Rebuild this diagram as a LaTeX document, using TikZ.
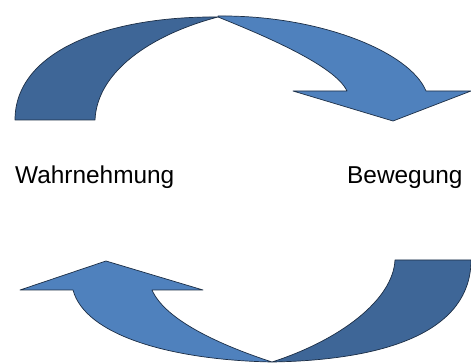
\documentclass[tikz,border=0pt]{standalone}
\usepackage{fontspec}
\setmainfont{Liberation Sans}
\definecolor{darkblue}{HTML}{3E6697}
\definecolor{lightblue}{HTML}{4F81BD}
\definecolor{edgecol}{HTML}{1C2E45}
\tikzset{
  backpart/.style={fill=darkblue, draw=edgecol, line width=0.7pt, line join=round},
  frontpart/.style={fill=lightblue, draw=edgecol, line width=0.7pt, line join=round},
  label/.style={font=\fontsize{24.4}{28}\selectfont, anchor=base west, inner sep=0pt, text=black}
}
\begin{document}
\begin{tikzpicture}[x=1pt,y=-1pt]
\useasboundingbox (0,0) rectangle (471,363);
\fill[white] (0,0) rectangle (471,363);
% top arrow: back (dark) part
\path[backpart] (15,120) -- (95,120)
  .. controls (97,72) and (150,35) .. (218,17)
  .. controls (110,16) and (15,50) .. cycle;
% top arrow: front (light) part with head
\path[frontpart] (218,16)
  .. controls (320,15) and (410,52) .. (426,91)
  -- (471,91) -- (393,121) -- (293,91) -- (347,91)
  .. controls (335,65) and (260,34) .. (218,17) -- cycle;
% bottom arrow: back (dark) part
\path[backpart] (395,260) -- (471,260)
  .. controls (471,330) and (390,360) .. (272,362)
  .. controls (340,340) and (393,300) .. cycle;
% bottom arrow: front (light) part with head
\path[frontpart] (272,362)
  .. controls (170,360) and (85,335) .. (73,290)
  -- (20,290) -- (106,261) -- (203,290) -- (152,290)
  .. controls (165,320) and (220,345) .. cycle;
\node[label] (wahr) at (15,184) {Wahrnehmung};
\node[label] (beweg) at (347,184) {Bewegung};
\end{tikzpicture}
\end{document}
